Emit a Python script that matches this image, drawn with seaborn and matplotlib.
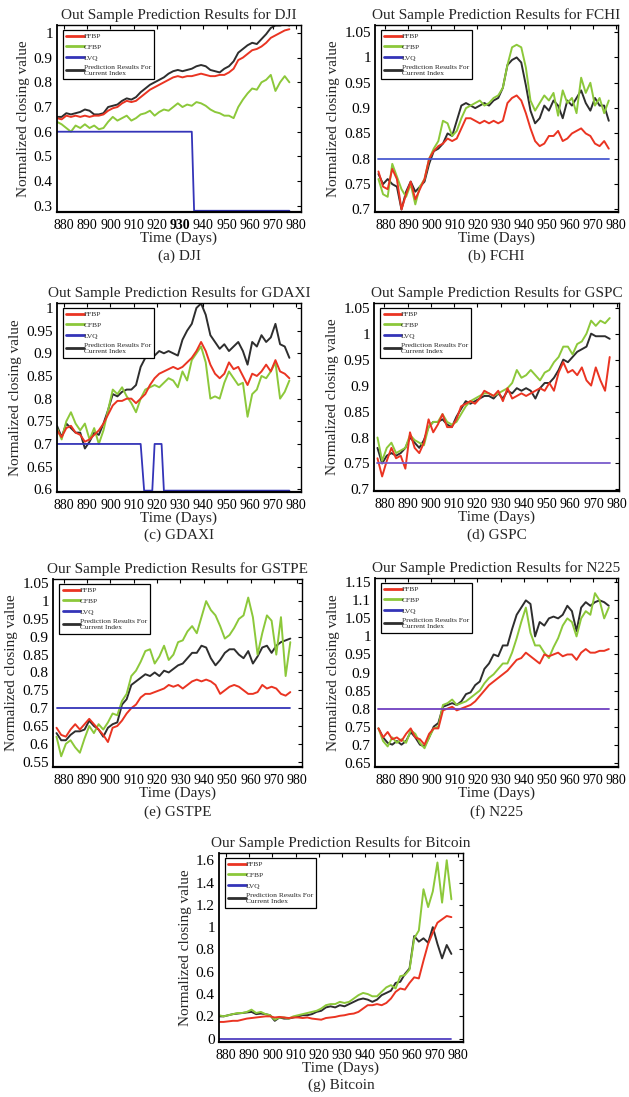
import numpy as np
import pandas as pd
import matplotlib
matplotlib.use("Agg")
import matplotlib.pyplot as plt
from matplotlib.lines import Line2D
from matplotlib.ticker import FixedLocator, FormatStrFormatter
import seaborn as sns

sns.set_theme(style="white")
plt.rcParams['font.family'] = ['Liberation Serif', 'DejaVu Serif']

# ---------------- data ----------------
days = list(range(877, 978, 2))   # 51 sampled days

models = ["FFBP", "CFBP", "LVQ", "Prediction Results For\nCurrent Index"]

# (a) DJI
dji_ffbp = [0.655, 0.65, 0.665, 0.66, 0.665, 0.66, 0.665, 0.66, 0.665, 0.665,
            0.67, 0.685, 0.695, 0.70, 0.715, 0.725, 0.72, 0.725, 0.74, 0.755,
            0.77, 0.78, 0.79, 0.80, 0.81, 0.82, 0.825, 0.82, 0.825, 0.825,
            0.83, 0.835, 0.83, 0.825, 0.825, 0.83, 0.83, 0.84, 0.855, 0.89,
            0.90, 0.915, 0.93, 0.935, 0.945, 0.96, 0.98, 0.99, 1.0, 1.01,
            1.015]
dji_cfbp = [0.64, 0.63, 0.615, 0.60, 0.625, 0.615, 0.63, 0.615, 0.625, 0.61,
            0.615, 0.64, 0.66, 0.645, 0.655, 0.665, 0.645, 0.655, 0.67, 0.675,
            0.685, 0.665, 0.68, 0.69, 0.685, 0.70, 0.715, 0.70, 0.71, 0.705,
            0.72, 0.715, 0.705, 0.69, 0.68, 0.675, 0.665, 0.665, 0.655, 0.70,
            0.73, 0.755, 0.775, 0.77, 0.80, 0.81, 0.83, 0.765, 0.80, 0.825,
            0.80]
dji_actual = [0.66, 0.66, 0.675, 0.67, 0.675, 0.68, 0.69, 0.685, 0.67, 0.67,
              0.675, 0.70, 0.705, 0.71, 0.725, 0.735, 0.73, 0.74, 0.76, 0.775,
              0.79, 0.80, 0.81, 0.82, 0.835, 0.845, 0.85, 0.845, 0.85, 0.855,
              0.865, 0.87, 0.865, 0.85, 0.845, 0.84, 0.855, 0.865, 0.885, 0.92,
              0.935, 0.95, 0.96, 0.955, 0.975, 0.995, 1.02, 1.03, 1.03, 1.035,
              1.03]
dji_lvq_days = [877, 935, 936, 977]
dji_lvq = [0.6, 0.6, 0.28, 0.28]

# (b) FCHI
fchi_ffbp = [0.775, 0.745, 0.74, 0.78, 0.76, 0.70, 0.73, 0.755, 0.72, 0.74,
             0.76, 0.80, 0.815, 0.825, 0.83, 0.84, 0.835, 0.84, 0.86, 0.88,
             0.88, 0.875, 0.87, 0.875, 0.87, 0.875, 0.87, 0.875, 0.91, 0.92,
             0.925, 0.915, 0.89, 0.86, 0.835, 0.825, 0.83, 0.845, 0.845, 0.855,
             0.835, 0.84, 0.85, 0.855, 0.86, 0.85, 0.845, 0.83, 0.825, 0.835,
             0.82]
fchi_cfbp = [0.76, 0.73, 0.725, 0.79, 0.765, 0.74, 0.725, 0.75, 0.71, 0.745,
             0.76, 0.80, 0.82, 0.835, 0.875, 0.87, 0.845, 0.855, 0.88, 0.90,
             0.905, 0.91, 0.915, 0.905, 0.91, 0.92, 0.925, 0.94, 0.985, 1.02,
             1.025, 1.02, 0.98, 0.915, 0.895, 0.91, 0.925, 0.915, 0.93, 0.885,
             0.935, 0.91, 0.92, 0.89, 0.96, 0.93, 0.95, 0.905, 0.92, 0.89,
             0.915]
fchi_actual = [0.77, 0.75, 0.76, 0.75, 0.745, 0.70, 0.735, 0.755, 0.735, 0.745,
               0.755, 0.79, 0.815, 0.82, 0.83, 0.85, 0.845, 0.875, 0.905, 0.91,
               0.905, 0.90, 0.905, 0.91, 0.905, 0.915, 0.92, 0.94, 0.985, 0.995,
               1.0, 0.99, 0.945, 0.895, 0.87, 0.88, 0.905, 0.895, 0.915, 0.905,
               0.88, 0.915, 0.905, 0.92, 0.935, 0.91, 0.895, 0.92, 0.905, 0.905,
               0.875]
fchi_lvq_days = [877, 977]
fchi_lvq = [0.8, 0.8]

# (c) GDAXI
gdaxi_ffbp = [0.73, 0.715, 0.735, 0.74, 0.725, 0.72, 0.705, 0.71, 0.72, 0.73,
              0.745, 0.765, 0.785, 0.795, 0.795, 0.80, 0.80, 0.79, 0.80, 0.81,
              0.83, 0.845, 0.855, 0.86, 0.865, 0.87, 0.865, 0.87, 0.88, 0.89,
              0.905, 0.925, 0.905, 0.875, 0.855, 0.845, 0.855, 0.88, 0.865, 0.87,
              0.85, 0.83, 0.855, 0.85, 0.86, 0.875, 0.86, 0.885, 0.86, 0.855,
              0.845]
gdaxi_cfbp = [0.735, 0.71, 0.75, 0.77, 0.745, 0.73, 0.745, 0.71, 0.735, 0.70,
              0.73, 0.775, 0.82, 0.81, 0.825, 0.805, 0.79, 0.77, 0.80, 0.82,
              0.825, 0.83, 0.825, 0.835, 0.845, 0.84, 0.825, 0.86, 0.84, 0.885,
              0.90, 0.915, 0.88, 0.80, 0.805, 0.80, 0.835, 0.86, 0.845, 0.83,
              0.835, 0.76, 0.81, 0.82, 0.85, 0.845, 0.86, 0.88, 0.80, 0.815,
              0.84]
gdaxi_actual = [0.74, 0.715, 0.745, 0.735, 0.725, 0.725, 0.69, 0.705, 0.725, 0.72,
                0.745, 0.775, 0.81, 0.805, 0.815, 0.82, 0.82, 0.83, 0.87, 0.89,
                0.895, 0.895, 0.905, 0.90, 0.905, 0.90, 0.895, 0.93, 0.95, 0.965,
                1.0, 1.01, 0.985, 0.94, 0.925, 0.91, 0.92, 0.905, 0.915, 0.925,
                0.905, 0.875, 0.925, 0.915, 0.94, 0.925, 0.935, 0.965, 0.92, 0.915,
                0.89]
gdaxi_lvq_days = [877, 913, 914.5, 918, 919, 922, 923, 977]
gdaxi_lvq = [0.7, 0.7, 0.597, 0.597, 0.7, 0.7, 0.597, 0.597]

# (d) GSPC
gspc_ffbp = [0.76, 0.725, 0.755, 0.78, 0.76, 0.765, 0.74, 0.81, 0.78, 0.77,
             0.79, 0.835, 0.81, 0.825, 0.845, 0.82, 0.82, 0.835, 0.86, 0.865,
             0.87, 0.865, 0.875, 0.89, 0.885, 0.88, 0.89, 0.87, 0.895, 0.875,
             0.88, 0.885, 0.88, 0.885, 0.89, 0.895, 0.89, 0.905, 0.89, 0.925,
             0.945, 0.925, 0.93, 0.92, 0.935, 0.91, 0.90, 0.935, 0.91, 0.89,
             0.955]
gspc_cfbp = [0.80, 0.755, 0.78, 0.79, 0.77, 0.775, 0.78, 0.805, 0.795, 0.79,
             0.785, 0.82, 0.83, 0.83, 0.845, 0.83, 0.825, 0.83, 0.845, 0.86,
             0.87, 0.875, 0.88, 0.885, 0.885, 0.88, 0.885, 0.89, 0.895, 0.905,
             0.93, 0.915, 0.92, 0.93, 0.92, 0.91, 0.925, 0.93, 0.945, 0.955,
             0.975, 0.975, 0.96, 0.98, 0.985, 1.0, 1.025, 1.015, 1.025, 1.02,
             1.03]
gspc_actual = [0.78, 0.75, 0.765, 0.77, 0.765, 0.77, 0.78, 0.80, 0.79, 0.78,
               0.795, 0.82, 0.83, 0.83, 0.835, 0.825, 0.82, 0.84, 0.855, 0.87,
               0.865, 0.87, 0.875, 0.88, 0.88, 0.875, 0.885, 0.875, 0.89, 0.885,
               0.895, 0.89, 0.895, 0.89, 0.875, 0.895, 0.905, 0.905, 0.915, 0.93,
               0.95, 0.945, 0.955, 0.965, 0.97, 0.975, 1.0, 0.995, 0.995, 0.995,
               0.99]
gspc_lvq_days = [877, 977]
gspc_lvq = [0.75, 0.75]

# (e) GSTPE
gstpe_ffbp = [0.645, 0.625, 0.62, 0.64, 0.655, 0.64, 0.655, 0.67, 0.655, 0.64,
              0.625, 0.605, 0.645, 0.65, 0.665, 0.685, 0.70, 0.71, 0.73, 0.74,
              0.74, 0.745, 0.75, 0.755, 0.765, 0.76, 0.765, 0.755, 0.765, 0.775,
              0.78, 0.775, 0.78, 0.775, 0.765, 0.74, 0.75, 0.76, 0.765, 0.76,
              0.75, 0.74, 0.74, 0.745, 0.765, 0.755, 0.76, 0.755, 0.74, 0.735,
              0.745]
gstpe_cfbp = [0.62, 0.565, 0.60, 0.61, 0.59, 0.575, 0.615, 0.65, 0.63, 0.655,
              0.64, 0.66, 0.685, 0.68, 0.72, 0.74, 0.79, 0.805, 0.83, 0.86,
              0.865, 0.825, 0.845, 0.875, 0.835, 0.85, 0.885, 0.89, 0.915, 0.93,
              0.91, 0.955, 1.0, 0.975, 0.96, 0.93, 0.895, 0.905, 0.925, 0.95,
              0.96, 1.01, 0.955, 0.85, 0.91, 0.96, 0.945, 0.85, 0.955, 0.79,
              0.885]
gstpe_actual = [0.63, 0.61, 0.61, 0.625, 0.635, 0.635, 0.64, 0.665, 0.65, 0.64,
                0.62, 0.645, 0.655, 0.66, 0.71, 0.725, 0.765, 0.775, 0.785, 0.795,
                0.79, 0.80, 0.79, 0.805, 0.80, 0.81, 0.82, 0.825, 0.84, 0.855,
                0.855, 0.875, 0.87, 0.84, 0.82, 0.835, 0.855, 0.865, 0.865, 0.85,
                0.84, 0.86, 0.825, 0.845, 0.87, 0.875, 0.855, 0.875, 0.885, 0.89,
                0.895]
gstpe_lvq_days = [877, 977]
gstpe_lvq = [0.7, 0.7]

# (f) N225
n225_ffbp = [0.745, 0.72, 0.735, 0.715, 0.72, 0.71, 0.73, 0.745, 0.72, 0.715,
             0.70, 0.73, 0.745, 0.745, 0.795, 0.80, 0.805, 0.795, 0.80, 0.805,
             0.81, 0.82, 0.835, 0.85, 0.865, 0.875, 0.885, 0.895, 0.905, 0.92,
             0.935, 0.94, 0.955, 0.945, 0.935, 0.925, 0.95, 0.945, 0.95, 0.955,
             0.945, 0.95, 0.95, 0.935, 0.955, 0.965, 0.955, 0.955, 0.96, 0.96,
             0.965]
n225_cfbp = [0.745, 0.71, 0.695, 0.72, 0.705, 0.715, 0.705, 0.74, 0.73, 0.705,
             0.69, 0.72, 0.745, 0.75, 0.81, 0.815, 0.825, 0.81, 0.815, 0.82,
             0.83, 0.84, 0.85, 0.87, 0.885, 0.895, 0.91, 0.925, 0.925, 0.955,
             0.995, 1.04, 1.08, 1.01, 0.975, 0.975, 0.955, 0.94, 0.97, 0.995,
             1.03, 1.05, 1.04, 1.00, 1.05, 1.07, 1.06, 1.12, 1.10, 1.05,
             1.08]
n225_actual = [0.745, 0.72, 0.705, 0.70, 0.71, 0.70, 0.71, 0.735, 0.72, 0.70,
               0.695, 0.72, 0.75, 0.76, 0.805, 0.81, 0.815, 0.81, 0.82, 0.84,
               0.845, 0.865, 0.875, 0.91, 0.925, 0.95, 0.945, 0.975, 0.975, 1.02,
               1.06, 1.08, 1.10, 1.09, 1.00, 1.04, 1.03, 1.05, 1.055, 1.05,
               1.06, 1.085, 1.07, 1.015, 1.08, 1.095, 1.085, 1.095, 1.10, 1.095,
               1.085]
n225_lvq_days = [877, 977]
n225_lvq = [0.8, 0.8]

# (g) Bitcoin
btc_ffbp = [0.15, 0.15, 0.155, 0.16, 0.16, 0.17, 0.18, 0.185, 0.19, 0.195,
            0.20, 0.20, 0.19, 0.195, 0.19, 0.185, 0.19, 0.19, 0.185, 0.19,
            0.18, 0.175, 0.17, 0.185, 0.19, 0.195, 0.205, 0.21, 0.22, 0.225,
            0.24, 0.27, 0.30, 0.30, 0.31, 0.30, 0.32, 0.36, 0.42, 0.45,
            0.44, 0.50, 0.55, 0.54, 0.70, 0.85, 0.95, 1.04, 1.07, 1.10,
            1.09]
btc_cfbp = [0.21, 0.20, 0.21, 0.22, 0.23, 0.23, 0.24, 0.26, 0.23, 0.24,
            0.22, 0.21, 0.17, 0.19, 0.19, 0.18, 0.20, 0.21, 0.22, 0.23,
            0.24, 0.25, 0.27, 0.30, 0.31, 0.31, 0.33, 0.32, 0.33, 0.36,
            0.39, 0.41, 0.40, 0.38, 0.38, 0.42, 0.46, 0.48, 0.45, 0.56,
            0.57, 0.62, 0.90, 0.97, 1.34, 1.18, 1.32, 1.58, 1.22, 1.60,
            1.25]
btc_actual = [0.20, 0.20, 0.21, 0.22, 0.225, 0.23, 0.235, 0.24, 0.22, 0.225,
              0.22, 0.21, 0.16, 0.19, 0.18, 0.18, 0.19, 0.20, 0.21, 0.21,
              0.22, 0.24, 0.25, 0.28, 0.29, 0.28, 0.30, 0.29, 0.31, 0.33,
              0.35, 0.36, 0.35, 0.33, 0.35, 0.39, 0.41, 0.43, 0.50, 0.51,
              0.58, 0.63, 0.92, 0.87, 0.90, 0.86, 1.0, 0.85, 0.72, 0.84,
              0.76]
btc_lvq_days = [877, 977]
btc_lvq = [0.0, 0.0]

x_ticks = [880, 890, 900, 910, 920, 930, 940, 950, 960, 970, 980]

# ---------------- styling ----------------
C_RED = "#ea3422"
C_GREEN = "#8cc83a"
C_BLUE = "#3434b8"
C_BLACK = "#2e2e2e"

W, H = 629, 1097
fig = plt.figure(figsize=(W / 100, H / 100), dpi=100)


def rect(l, r, t, b):
    return [l / W, 1 - b / H, (r - l) / W, (b - t) / H]


panels = [
    dict(r=rect(57, 301, 25, 212), title="Out Sample Prediction Results for DJI", cap="(a) DJI", cap_y=256,
         ff=dji_ffbp, cf=dji_cfbp, ac=dji_actual, ld=dji_lvq_days, lv=dji_lvq, lc=C_BLUE,
         ylim=(0.275, 1.032), yt=[0.3, 0.4, 0.5, 0.6, 0.7, 0.8, 0.9, 1.0], xlim=(877, 982)),
    dict(r=rect(375, 618, 25, 212), title="Out Sample Prediction Results for FCHI", cap="(b) FCHI", cap_y=256,
         ff=fchi_ffbp, cf=fchi_cfbp, ac=fchi_actual, ld=fchi_lvq_days, lv=fchi_lvq, lc="#4a5ad0",
         ylim=(0.695, 1.064), yt=[0.7, 0.75, 0.8, 0.85, 0.9, 0.95, 1.0, 1.05], xlim=(875.5, 981)),
    dict(r=rect(57, 301, 303, 492), title="Out Sample Prediction Results for GDAXI", cap="(c) GDAXI", cap_y=535,
         ff=gdaxi_ffbp, cf=gdaxi_cfbp, ac=gdaxi_actual, ld=gdaxi_lvq_days, lv=gdaxi_lvq, lc=C_BLUE,
         ylim=(0.594, 1.011), yt=[0.6, 0.65, 0.7, 0.75, 0.8, 0.85, 0.9, 0.95, 1.0], xlim=(877, 982)),
    dict(r=rect(374, 619, 303, 491), title="Out Sample Prediction Results for GSPC", cap="(d) GSPC", cap_y=535,
         ff=gspc_ffbp, cf=gspc_cfbp, ac=gspc_actual, ld=gspc_lvq_days, lv=gspc_lvq, lc="#7a5ccc",
         ylim=(0.697, 1.059), yt=[0.7, 0.75, 0.8, 0.85, 0.9, 0.95, 1.0, 1.05], xlim=(875.5, 981)),
    dict(r=rect(53, 302, 579, 767), title="Our Sample Prediction Results for GSTPE", cap="(e) GSTPE", cap_y=812,
         ff=gstpe_ffbp, cf=gstpe_cfbp, ac=gstpe_actual, ld=gstpe_lvq_days, lv=gstpe_lvq, lc=C_BLUE,
         ylim=(0.535, 1.062), yt=[0.55, 0.6, 0.65, 0.7, 0.75, 0.8, 0.85, 0.9, 0.95, 1.0, 1.05], xlim=(875.5, 982)),
    dict(r=rect(375, 618, 578, 767), title="Our Sample Prediction Results for N225", cap="(f) N225", cap_y=812,
         ff=n225_ffbp, cf=n225_cfbp, ac=n225_actual, ld=n225_lvq_days, lv=n225_lvq, lc="#7040c0",
         ylim=(0.638, 1.162), yt=[0.65, 0.7, 0.75, 0.8, 0.85, 0.9, 0.95, 1.0, 1.05, 1.1, 1.15], xlim=(875.5, 981)),
    dict(r=rect(219, 463, 853, 1042), title="Our Sample Prediction Results for Bitcoin", cap="(g) Bitcoin", cap_y=1085,
         ff=btc_ffbp, cf=btc_cfbp, ac=btc_actual, ld=btc_lvq_days, lv=btc_lvq, lc="#5040c0",
         ylim=(-0.03, 1.665), yt=[0, 0.2, 0.4, 0.6, 0.8, 1.0, 1.2, 1.4, 1.6], xlim=(877, 982)),
]

FS = 11
TFS = 10
for i, p in enumerate(panels):
    ax = fig.add_axes(p["r"])
    df = pd.DataFrame({
        "day": days * 3,
        "value": p["ac"] + p["cf"] + p["ff"],
        "model": ["actual"] * len(days) + ["CFBP"] * len(days) + ["FFBP"] * len(days),
    })
    sns.lineplot(data=df, x="day", y="value", hue="model",
                 hue_order=["actual", "CFBP", "FFBP"],
                 palette={"actual": C_BLACK, "CFBP": C_GREEN, "FFBP": C_RED},
                 linewidth=1.4, legend=False, sort=False, estimator=None, ax=ax)
    lvq_df = pd.DataFrame({"day": p["ld"], "value": p["lv"]})
    sns.lineplot(data=lvq_df, x="day", y="value", color=p["lc"], linewidth=1.3,
                 sort=False, estimator=None, ax=ax)

    ax.set_xlim(*p["xlim"])
    ax.set_ylim(*p["ylim"])
    ax.xaxis.set_major_locator(FixedLocator(x_ticks))
    ax.yaxis.set_major_locator(FixedLocator(p["yt"]))
    ax.yaxis.set_major_formatter(FormatStrFormatter("%g"))
    ax.tick_params(direction="in", length=3, width=0.8, top=True, right=True,
                   labelsize=TFS, pad=3, colors="black")
    ax.tick_params(axis="y", labelsize=FS)
    ax.tick_params(axis="x", pad=5)
    for s in ax.spines.values():
        s.set_color("black")
        s.set_linewidth(1.0)
        s.set_visible(True)
    ax.spines["bottom"].set_linewidth(1.6)
    ax.spines["left"].set_linewidth(1.3)

    ax.set_title(p["title"], fontsize=FS, pad=4)
    ax.set_xlabel("Time (Days)", fontsize=FS, labelpad=0)
    ax.set_ylabel("Normalized closing value", fontsize=FS, labelpad=3)
    if i == 0:
        for lab in ax.get_xticklabels():
            if lab.get_text() == "930":
                lab.set_fontweight("bold")

    # caption
    pos = ax.get_position()
    fig.text(pos.x0 + pos.width / 2, 1 - p["cap_y"] / H, p["cap"], ha="center", va="center", fontsize=FS)

    handles = [Line2D([], [], color=C_RED, lw=2.0),
               Line2D([], [], color=C_GREEN, lw=2.0),
               Line2D([], [], color=C_BLUE, lw=2.0),
               Line2D([], [], color=C_BLACK, lw=2.0)]
    leg = ax.legend(handles, models, loc="upper left", bbox_to_anchor=(0.025, 0.975),
                    borderaxespad=0, fontsize=5.4, handlelength=2.3, handletextpad=0.0,
                    labelspacing=0.6, borderpad=0.45, fancybox=False, framealpha=1,
                    edgecolor="black")
    leg.get_frame().set_linewidth(0.9)

fig.savefig("out.png", dpi=100)
